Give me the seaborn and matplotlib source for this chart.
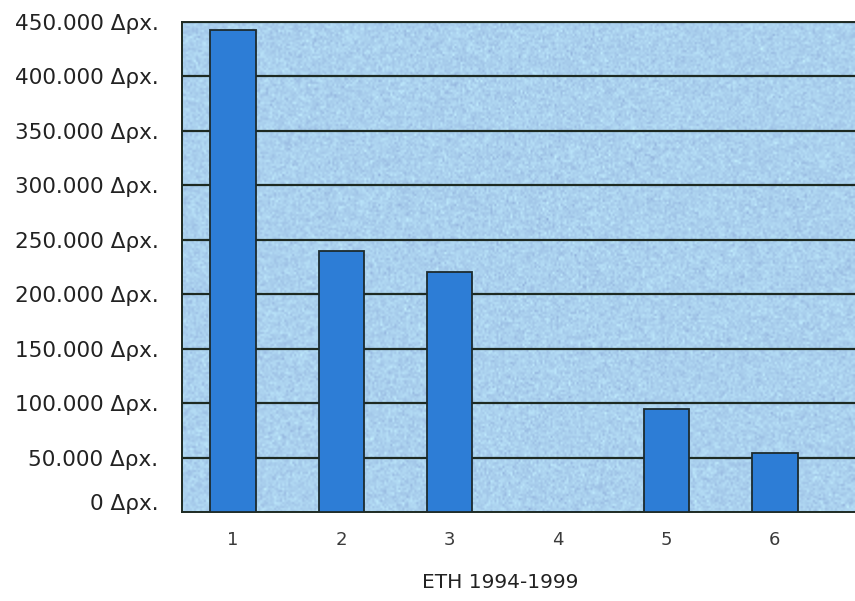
import numpy as np
import pandas as pd
import matplotlib
matplotlib.use("Agg")
import matplotlib.pyplot as plt
import matplotlib.transforms as mtransforms
import seaborn as sns

# Categories on the x axis and the amount for each one (drachmas)
categories = ["1", "2", "3", "4", "5", "6"]
amounts = [443000, 240000, 220000, 0, 95000, 54000]

# Y tick values and their labels
y_ticks = [0, 50000, 100000, 150000, 200000, 250000, 300000, 350000, 400000, 450000]
y_labels = ["0 Δρx.", "50.000 Δρx.", "100.000 Δρx.", "150.000 Δρx.", "200.000 Δρx.",
            "250.000 Δρx.", "300.000 Δρx.", "350.000 Δρx.", "400.000 Δρx.", "450.000 Δρx."]
x_title = "ETH 1994-1999"

sns.set_theme(style="white")
plt.rcParams["font.family"] = ["DejaVu Sans"]

df = pd.DataFrame({"category": categories, "amount": amounts})

W, H = 855, 601
fig = plt.figure(figsize=(W / 100, H / 100), dpi=100)
fig.patch.set_facecolor("white")
left, bottom, top = 182, 512, 22
ax = fig.add_axes([left / W, 1 - bottom / H, 1 - left / W, (bottom - top) / H])

ax.set_xlim(-0.47, 5.74)
ax.set_ylim(0, 450000)

# speckled light-blue paper behind the plot
rng = np.random.default_rng(7)
grain = rng.normal(0.0, 1.0, size=(245, 336))
base = np.array([0.67, 0.82, 0.935])
tex = np.clip(base[None, None, :] + 0.03 * grain[:, :, None]
              + np.array([0.0, 0.008, -0.008])[None, None, :] * grain[:, :, None], 0, 1)
ax.imshow(tex, extent=(-0.47, 5.74, 0, 450000), aspect="auto",
          interpolation="bilinear", zorder=0)

sns.barplot(data=df, x="category", y="amount", ax=ax, color="#2d7dd6",
            width=0.42, saturation=1, edgecolor="#1c2b2e", linewidth=1.3, zorder=3)

ax.set_xlim(-0.47, 5.74)
ax.set_ylim(0, 450000)
ax.set_yticks(y_ticks)
ax.set_yticklabels(y_labels, fontsize=15.5, color="#222222")
ax.tick_params(axis="y", length=0, pad=17)
ax.tick_params(axis="x", length=0, pad=14, labelsize=13, labelcolor="#3a3a3a")
ax.set_xlabel("")
ax.set_ylabel("")

# the zero label sits a little above the baseline
zero_lbl = ax.get_yticklabels()[0]
zero_lbl.set_transform(zero_lbl.get_transform()
                       + mtransforms.ScaledTranslation(0, 10 / 100, fig.dpi_scale_trans))

# horizontal rules across the plot, drawn behind the bars
for v in y_ticks[1:]:
    ax.axhline(v, color="#1d2a22", linewidth=1.6, zorder=1)

for side in ["top", "left", "bottom"]:
    ax.spines[side].set_visible(True)
    ax.spines[side].set_color("#1d2a22")
    ax.spines[side].set_linewidth(1.4)
ax.spines["right"].set_visible(False)

fig.text(500 / W, 1 - 583 / H, x_title, ha="center", va="center",
         fontsize=14.5, color="#222222")

fig.savefig("out.png", dpi=100, facecolor="white")
